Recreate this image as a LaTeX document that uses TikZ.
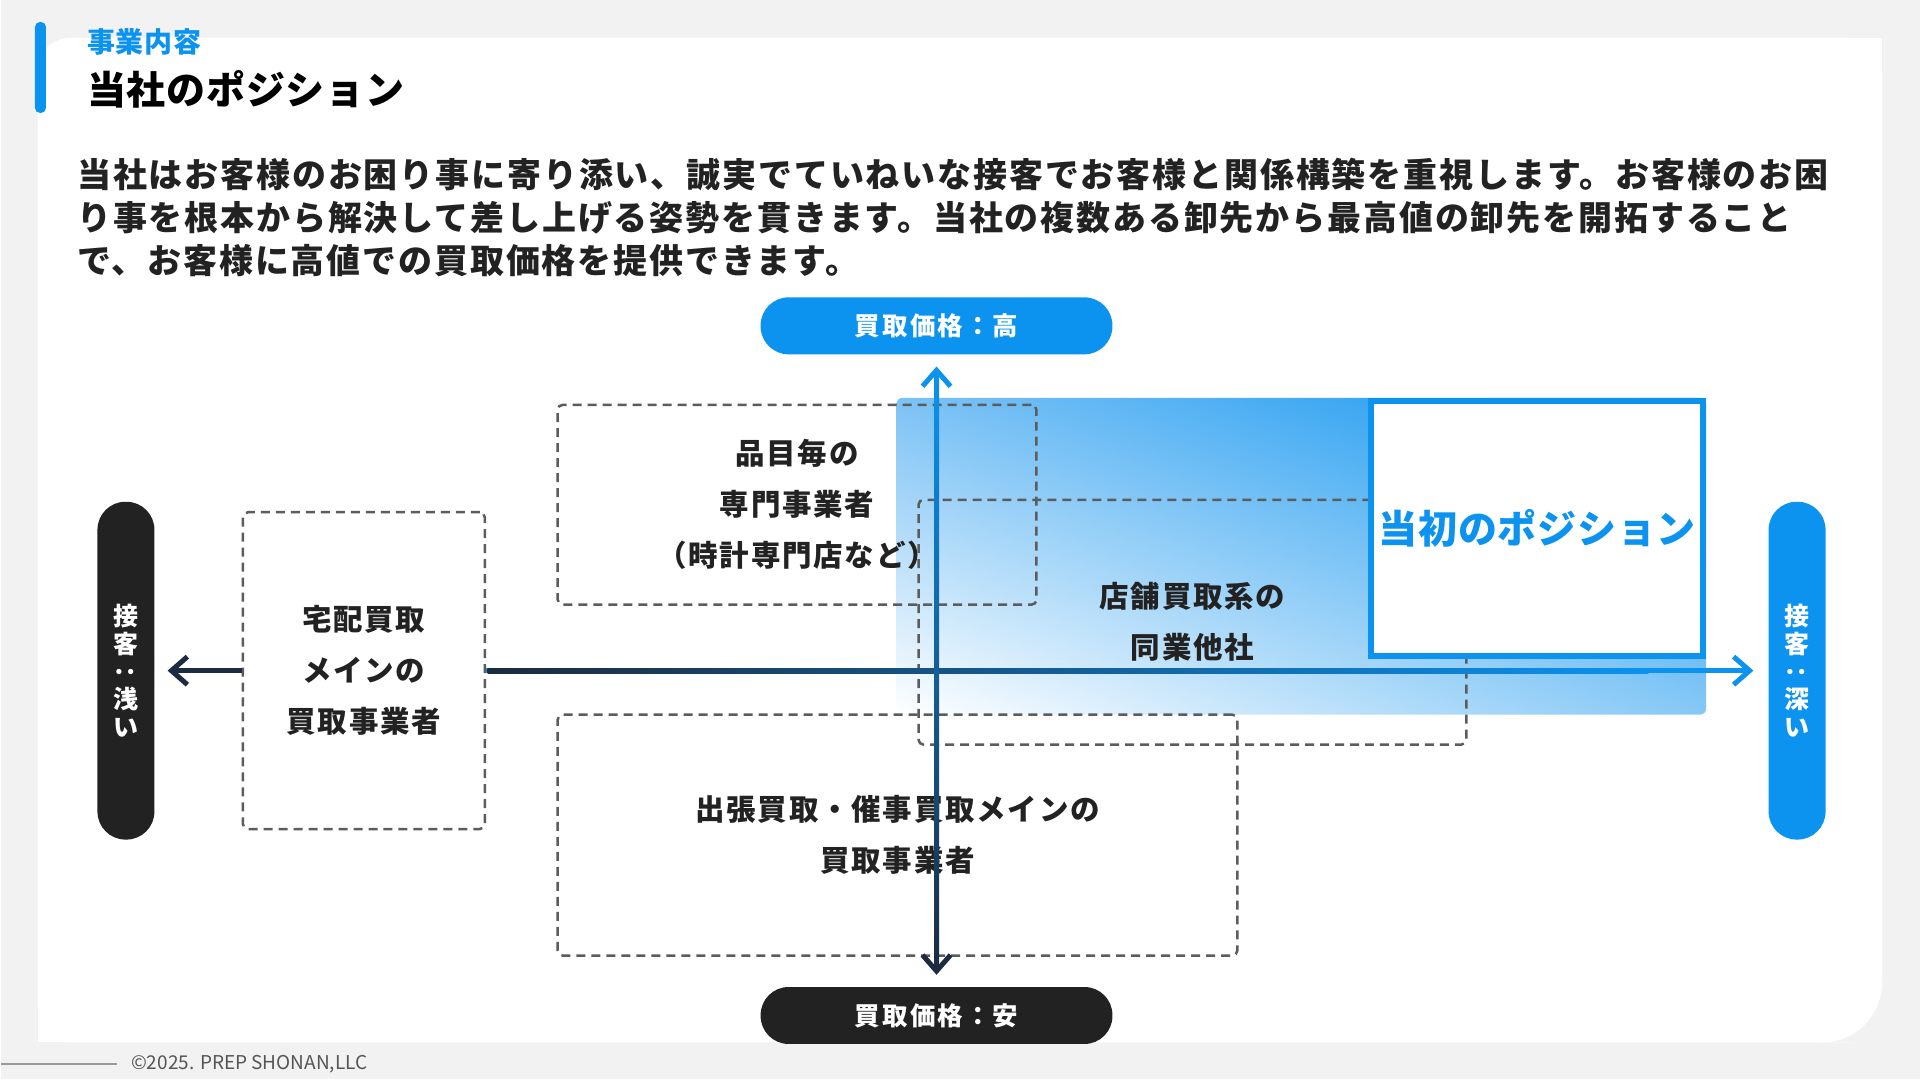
\documentclass[tikz,border=0pt]{standalone}
\usepackage{fontspec}
\setmainfont{Noto Sans CJK JP}
\usetikzlibrary{arrows.meta,positioning,calc,shadings}
\definecolor{brand}{HTML}{0B93EF}
\definecolor{ink}{HTML}{222222}
\definecolor{navy}{HTML}{1C2B3F}
\definecolor{dashgray}{HTML}{5C5C5C}
\definecolor{pagegray}{HTML}{F2F2F2}
\definecolor{skymid}{HTML}{7CC2F5}
\definecolor{skylow}{HTML}{86C8F6}
\definecolor{footgray}{HTML}{555555}
\newcommand{\jpfont}[3]{\fontsize{#1pt}{#2pt}\selectfont\bfseries\addfontfeatures{LetterSpace=#3}}
\tikzset{dbox/.style={draw=dashgray,line width=2.5pt,dash pattern=on 9pt off 6pt,rounded corners=5pt,
 align=center,text=ink,font=\jpfont{29.5}{51}{6}},
 pill/.style={rounded corners=28pt,minimum width=352pt,minimum height=57pt,text=white,font=\jpfont{25.5}{30}{8}},
 vpill/.style={rounded corners=28pt,minimum width=57pt,minimum height=338pt,text=white,align=center,
 font=\jpfont{25}{28}{0}},
 axis/.style={line width=5pt},
 barb/.tip={Straight Barb[length=16pt,width=28pt]}}

\begin{document}
\begin{tikzpicture}[x=1pt,y=-1pt]
% page and panel
\fill[pagegray] (0,0) rectangle (1920,1080);
\fill[white,rounded corners=32pt] (37,38) rectangle (1882,1043);
\fill[white] (1800,38) rectangle (1882,120);
\fill[white] (37,960) rectangle (120,1043);
\fill[pagegray] (1822,983) rectangle (1882,1043);
\fill[white] (1822,983) circle[radius=60pt];
% header
\fill[brand,rounded corners=5pt] (34,22) rectangle (45,113);
\node[anchor=west,inner sep=0pt,text=brand,font=\jpfont{28}{30}{3}] (section) at (86,42) {事業内容};
\node[anchor=west,inner sep=0pt,text=black,font=\jpfont{39}{44}{2}] (title) at (86,89) {当社のポジション};
\node[anchor=north west,inner sep=0pt,align=left,text=ink,font=\jpfont{34}{43}{5.5}] (lead) at (76,158)
 {当社はお客様のお困り事に寄り添い、誠実でていねいな接客でお客様と関係構築を重視します。お客様のお困\\
 り事を根本から解決して差し上げる姿勢を貫きます。当社の複数ある卸先から最高値の卸先を開拓すること\\
 で、お客様に高値での買取価格を提供できます。};
% map
\shade[rounded corners=6pt,upper left=skymid,upper right=brand,lower left=white,lower right=skylow]
 (896,398) rectangle (1706,715);
\node[dbox,minimum width=479pt,minimum height=200pt] (item) at (796.5,505) {品目毎の\\専門事業者\\（時計専門店など）};
\node[dbox,minimum width=548pt,minimum height=245pt] (store) at (1192,622.5) {店舗買取系の\\同業他社};
\node[dbox,minimum width=680pt,minimum height=241pt] (visit) at (897,835.5) {出張買取・催事買取メインの\\買取事業者};
\node[dbox,fill=white,minimum width=242pt,minimum height=317pt] (home) at (363,671) {宅配買取\\メインの\\買取事業者};
\node[draw=brand,line width=6pt,fill=white,minimum width=332pt,minimum height=255pt,text=brand,
 font=\jpfont{39}{44}{2}] (firstpos) at (1537,528.5) {当初のポジション};
\node[pill,fill=brand] (high) at (936,326) {買取価格：高};
\node[pill,fill=ink] (low) at (936,1016) {買取価格：安};
\node[vpill,fill=ink] (shallow) at (125,671) {接\\客\\\rotatebox[origin=c]{90}{：}\\浅\\い};
\node[vpill,fill=brand] (deep) at (1797,671) {接\\客\\\rotatebox[origin=c]{90}{：}\\深\\い};
% axes
\draw[axis,navy,-{barb},shorten >=13pt] (home.west) -- (shallow.east);
\draw[axis,brand,-{barb},shorten >=15pt] (home.east) -- (deep.west);
\shade[left color=navy,right color=brand] ($(home.east)+(1.5,-2.5)$) rectangle ($(deep.west)+(-120,2.5)$);
\draw[axis,navy,{barb[color=brand]}-{barb},shorten <=12pt,shorten >=12pt] (high) -- (low);
\shade[top color=brand,bottom color=navy] ($(high.south)+(-2.5,18)$) rectangle ($(low.north)+(2.5,-18)$);
% footer
\node[anchor=west,inner sep=0pt,text=footgray,font=\fontsize{19pt}{20pt}\selectfont] (copy) at (130,1065) {©2025. PREP SHONAN,LLC};
\draw[line width=2pt,draw=gray!80] ([xshift=-14pt]copy.west) -- (copy.west -| 0,0);
\end{tikzpicture}
\end{document}
